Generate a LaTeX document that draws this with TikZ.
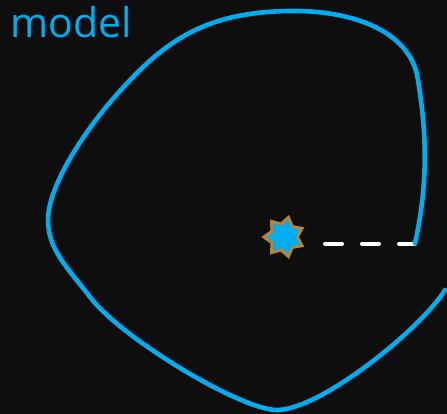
\documentclass[tikz,border=0pt]{standalone}
\usepackage{fontspec}
\setmainfont{Open Sans}
\usetikzlibrary{shapes.geometric}
\definecolor{bg}{HTML}{0E0E0E}
\definecolor{skyb}{HTML}{00AEEF}
\definecolor{gold}{HTML}{B5863A}
\tikzset{
  curveline/.style={draw=skyb, line width=4.6pt, line cap=round, line join=round},
  dashline/.style={draw=white, line width=4pt, line cap=round, dash pattern=on 17pt off 20pt},
  starnode/.style={star, star points=7, star point ratio=1.5, minimum size=40pt, inner sep=0pt,
    fill=skyb, draw=gold, line width=3pt, shape border rotate=90},
  titletext/.style={text=skyb, font=\fontsize{41pt}{44pt}\selectfont, inner sep=0pt, anchor=base west}
}
\begin{document}
\begin{tikzpicture}[x=1pt, y=-1pt]
\useasboundingbox (0,0) rectangle (447,414);
\fill[bg] (0,0) rectangle (447,414);
\node[titletext] (title) at (10,38) {model};
\node[starnode] (st) at (284,237) {};
\coordinate (d1) at (325,243.5);
\coordinate (d2) at (415,243.5);
\coordinate (c1) at (418,80);
\coordinate (c2) at (290,11);
\coordinate (c3) at (112,100);
\coordinate (c4) at (48,220);
\coordinate (c5) at (90,297);
\coordinate (c6) at (277,410);
\coordinate (c7) at (445,290);
\draw[dashline] (d1) -- (d2);
\draw[curveline] (d2) .. controls (429,180) and (426,130) .. (c1)
  .. controls (411,30) and (350,10) .. (c2)
  .. controls (200,12) and (160,45) .. (c3)
  .. controls (86,130) and (48,185) .. (c4)
  .. controls (48,250) and (68,268) .. (c5)
  .. controls (120,337) and (240,410) .. (c6)
  .. controls (320,410) and (420,330) .. (c7);
\end{tikzpicture}
\end{document}
